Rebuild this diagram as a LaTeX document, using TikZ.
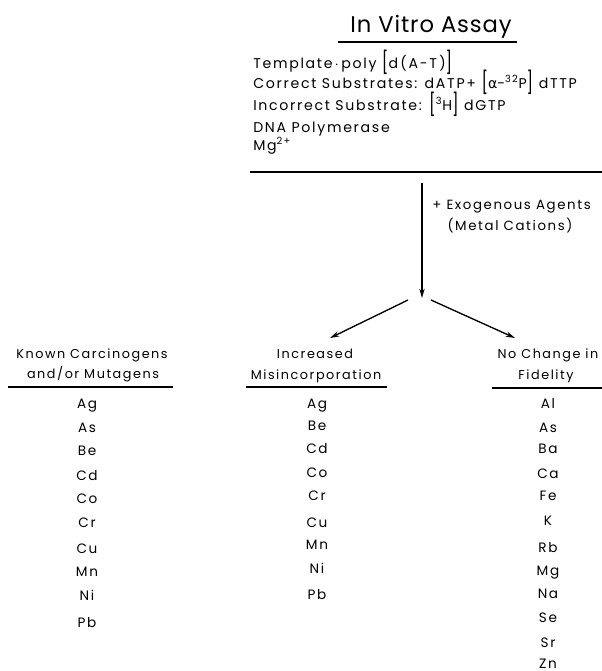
\documentclass[tikz,border=0pt]{standalone}
\usepackage{fontspec}
\setmainfont{Poppins}
\newfontfamily\widefont[LetterSpace=12]{Poppins}
\newfontfamily\titlefont[LetterSpace=4]{Poppins}
\newfontfamily\greekfont[LetterSpace=12]{DejaVu Sans}
\usetikzlibrary{arrows.meta}
\newcommand{\lbr}{\raisebox{-0.3ex}{\scalebox{1.1}[1.55]{[}}}
\newcommand{\rbr}{\raisebox{-0.3ex}{\scalebox{1.1}[1.55]{]}}}
\begin{document}
\begin{tikzpicture}[x=0.75pt,y=-0.75pt,
  every node/.style={inner sep=0pt},
  titletxt/.style={anchor=base, font=\titlefont\fontsize{17}{20}\selectfont},
  hdtxt/.style={anchor=base west, font=\widefont\fontsize{10.6}{12}\selectfont},
  agtxt/.style={font=\widefont\fontsize{10}{12}\selectfont},
  coltxt/.style={anchor=base, font=\widefont\fontsize{9.6}{11}\selectfont},
  itemtxt/.style={anchor=base, font=\widefont\fontsize{10.2}{12}\selectfont},
  rule/.style={line width=1pt},
  arr/.style={line width=1pt, -{Stealth[length=7pt,width=4pt]}}]
\useasboundingbox (0,0) rectangle (602,671);

% title
\node[titletxt] (title) at (431,32) {In Vitro Assay};
\coordinate (tl) at (338,42);
\coordinate (tr) at (517,42);
\draw[rule] (tl) -- (tr);

% assay contents
\node[hdtxt] (tmpl) at (253,68) {Template\,$\cdot$\,poly \lbr d\,(A-T\,)\rbr};
\node[hdtxt] (corr) at (253,88) {Correct Substrates: dATP+ \lbr{\greekfont α}-\textsuperscript{32}P\rbr\ dTTP};
\node[hdtxt] (inc) at (253,110) {Incorrect Substrate: \lbr\textsuperscript{3}H\rbr\ dGTP};
\node[hdtxt] (pol) at (253,132) {DNA Polymerase};
\node[hdtxt] (mg) at (253,150) {Mg\textsuperscript{2+}};
\coordinate (hl) at (250,172);
\coordinate (hr) at (602,172);
\draw[rule] (hl) -- (hr);

% main arrow
\coordinate (vtop) at (422,183);
\coordinate (vtip) at (422,298);
\draw[arr] (vtop) -- (vtip);
\node[agtxt, anchor=base west] (exo) at (432,209) {+ Exogenous Agents};
\node[agtxt, anchor=base] (metal) at (510,230) {(Metal Cations)};

% branches
\coordinate (bl0) at (408,300);
\coordinate (bl1) at (330,338);
\coordinate (br0) at (431,300);
\coordinate (br1) at (515,338);
\draw[arr] (bl0) -- (bl1);
\draw[arr] (br0) -- (br1);

% column headers
\node[coltxt] (h1a) at (92,358) {Known Carcinogens};
\node[coltxt] (h1b) at (93,378) {and/or Mutagens};
\draw[rule] (8,387) -- (173,387);
\node[coltxt] (h2a) at (315,358) {Increased};
\node[coltxt] (h2b) at (316,379) {Misincorporation};
\draw[rule] (246,387) -- (387,387);
\node[coltxt] (h3a) at (548,358) {No Change in};
\node[coltxt] (h3b) at (546,379) {Fidelity};
\draw[rule] (492,388) -- (602,388);

% column 1
\foreach \t/\yy [count=\i] in {Ag/403,As/427,Be/450,Cd/475,Co/498,Cr/522,Cu/548,Mn/571,Ni/595,Pb/622}
  \node[itemtxt] (a\i) at (87,\yy+5) {\t};
% column 2
\foreach \t/\yy [count=\i] in {Ag/403,Be/425,Cd/448,Co/472,Cr/495,Cu/522,Mn/544,Ni/568,Pb/594}
  \node[itemtxt] (b\i) at (317,\yy+5) {\t};
% column 3
\foreach \t/\yy [count=\i] in {Al/403,As/427,Ba/448,Ca/473,Fe/495,K/520,Rb/547,Mg/570,Na/593,Se/617,Sr/642,Zn/663}
  \node[itemtxt] (c\i) at (548,\yy+5) {\t};
\end{tikzpicture}
\end{document}
